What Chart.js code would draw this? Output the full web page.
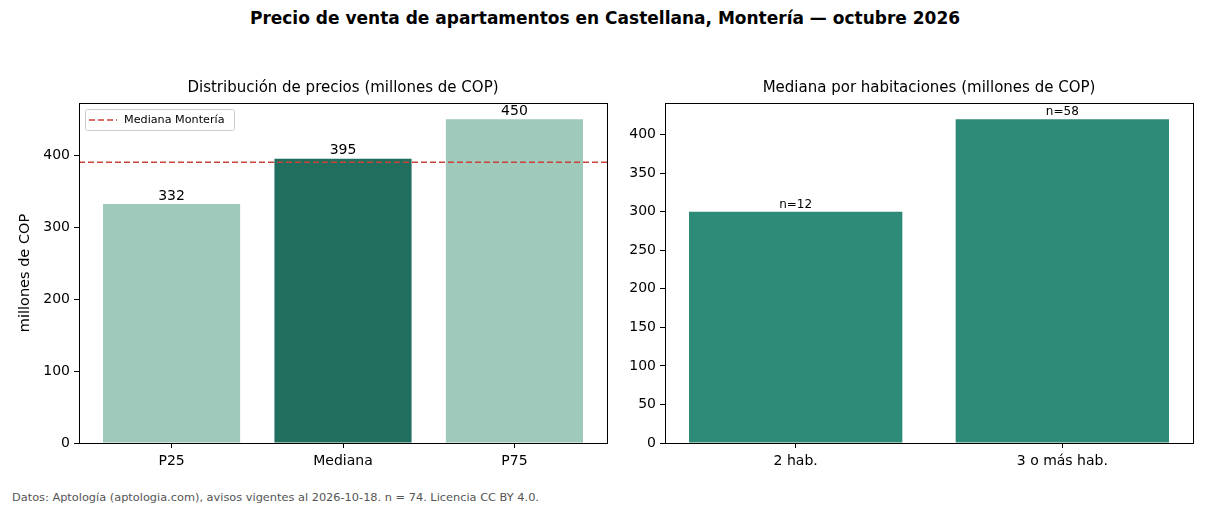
<!DOCTYPE html>
<html>
<head>
<meta charset="utf-8">
<script src="https://cdn.jsdelivr.net/npm/chart.js@4"></script>
<style>
  body { margin: 0; width: 1210px; height: 506px; background: #fff; position: relative; overflow: hidden; font-family: "DejaVu Sans", sans-serif; }
  #titulo { position: absolute; top: 8px; left: 0; width: 1210px; text-align: center; font-weight: bold; font-size: 17px; line-height: 20px; color: #000; }
  #pie { position: absolute; left: 12px; top: 490px; font-size: 11.35px; line-height: 14px; color: #555; }
  .caja { position: absolute; top: 70px; height: 420px; }
</style>
</head>
<body>
<div id="titulo">Precio de venta de apartamentos en Castellana, Montería — octubre 2026</div>
<div class="caja" style="left:0;width:612px"><canvas id="precios"></canvas></div>
<div class="caja" style="left:620px;width:580px"><canvas id="habitaciones"></canvas></div>
<div id="pie">Datos: Aptología (aptologia.com), avisos vigentes al 2026-10-18. n = 74. Licencia CC BY 4.0.</div>

<script>
// datos
const catsPrecio = ['P25', 'Mediana', 'P75'];
const valsPrecio = [332, 395, 450];
const medianaMonteria = 390;
const ticksPrecio = [0, 100, 200, 300, 400];

const catsHab = ['2 hab.', '3 o más hab.'];
const valsHab = [300, 420];
const nHab = [12, 58];
const ticksHab = [0, 50, 100, 150, 200, 250, 300, 350, 400];

const claro = '#9ec9bb';
const oscuro = '#206e5e';
const verde = '#2e8b77';
const rojo = '#c8433a';

Chart.defaults.font.family = '"DejaVu Sans", sans-serif';
Chart.defaults.color = '#000';
Chart.defaults.animation = false;

// marco negro alrededor del area
const marco = {
  id: 'marco',
  afterDraw(chart) {
    const a = chart.chartArea, c = chart.ctx;
    c.save();
    c.strokeStyle = '#000';
    c.lineWidth = 1;
    c.strokeRect(Math.round(a.left) + 0.5, Math.round(a.top) + 0.5,
      Math.round(a.right - a.left), Math.round(a.bottom - a.top));
    c.restore();
  }
};

// subtitulo centrado sobre el area del grafico
function subtitulo(texto) {
  return {
    id: 'subtitulo',
    afterDraw(chart) {
      const a = chart.chartArea, c = chart.ctx;
      c.save();
      c.fillStyle = '#000';
      c.font = '15px "DejaVu Sans"';
      c.textAlign = 'center';
      c.textBaseline = 'middle';
      c.fillText(texto, (a.left + a.right) / 2, a.top - 15);
      c.restore();
    }
  };
}

// texto encima de cada barra
function etiquetas(textos, size) {
  return {
    id: 'etiquetas',
    afterDatasetsDraw(chart) {
      const c = chart.ctx;
      const meta = chart.getDatasetMeta(0);
      c.save();
      c.fillStyle = '#000';
      c.font = size + 'px "DejaVu Sans"';
      c.textAlign = 'center';
      c.textBaseline = 'bottom';
      meta.data.forEach((el, i) => c.fillText(textos[i], el.x, el.y - 1));
      c.restore();
    }
  };
}

// linea de referencia y leyenda
const referencia = {
  id: 'referencia',
  afterDatasetsDraw(chart) {
    const a = chart.chartArea, c = chart.ctx;
    const y = chart.scales.y.getPixelForValue(medianaMonteria);
    c.save();
    c.strokeStyle = rojo;
    c.lineWidth = 1.5;
    c.setLineDash([6, 3]);
    c.beginPath();
    c.moveTo(a.left, y);
    c.lineTo(a.right, y);
    c.stroke();
    // leyenda
    const lx = a.left + 6, ly = a.top + 6;
    c.setLineDash([]);
    c.fillStyle = 'rgba(255,255,255,0.85)';
    c.strokeStyle = '#ccc';
    c.lineWidth = 1;
    c.beginPath();
    c.roundRect(lx + 0.5, ly + 0.5, 149, 21, 2);
    c.fill();
    c.stroke();
    c.strokeStyle = rojo;
    c.lineWidth = 1.5;
    c.setLineDash([6, 3]);
    c.beginPath();
    c.moveTo(lx + 4, ly + 11);
    c.lineTo(lx + 32, ly + 11);
    c.stroke();
    c.fillStyle = '#000';
    c.font = '11.2px "DejaVu Sans"';
    c.textBaseline = 'middle';
    c.fillText('Mediana Montería', lx + 39, ly + 11);
    c.restore();
  }
};

function ejes(cats, min, max, ymax, yticks, anchoY, tituloY) {
  return {
    x: {
      type: 'linear', min: min, max: max, offset: false,
      afterBuildTicks: s => { s.ticks = cats.map((_, i) => ({ value: i })); },
      ticks: { callback: v => cats[v], font: { size: 14 }, padding: 5, maxRotation: 0, autoSkip: false },
      grid: { drawOnChartArea: false, offset: false, tickLength: 5, color: '#000' },
      border: { display: false },
      afterFit: s => { s.height = 47; }
    },
    y: {
      min: 0, max: ymax,
      afterBuildTicks: s => { s.ticks = yticks.map(v => ({ value: v })); },
      ticks: { font: { size: 14 }, padding: 4 },
      grid: { drawOnChartArea: false, tickLength: 5, color: '#000' },
      border: { display: false },
      title: { display: !!tituloY, text: tituloY, font: { size: 14.5 }, padding: { top: 0, bottom: 4 } },
      afterFit: s => { s.width = anchoY; }
    }
  };
}

new Chart(document.getElementById('precios'), {
  type: 'bar',
  data: {
    datasets: [{
      data: valsPrecio.map((v, i) => ({ x: i, y: v })),
      backgroundColor: catsPrecio.map(c => c === 'Mediana' ? oscuro : claro),
      borderWidth: 0,
      barPercentage: 0.8,
      categoryPercentage: 1
    }]
  },
  options: {
    responsive: true,
    maintainAspectRatio: false,
    layout: { padding: { left: 17, right: 5, top: 33, bottom: 0 } },
    plugins: {
      legend: { display: false },
      tooltip: { enabled: false }
    },
    scales: ejes(catsPrecio, -0.54, 2.54, 472.5, ticksPrecio, 62, 'millones de COP')
  },
  plugins: [referencia, etiquetas(valsPrecio.map(String), 14), marco, subtitulo('Distribución de precios (millones de COP)')]
});

new Chart(document.getElementById('habitaciones'), {
  type: 'bar',
  data: {
    datasets: [{
      data: valsHab.map((v, i) => ({ x: i, y: v })),
      backgroundColor: verde,
      borderWidth: 0,
      barPercentage: 0.8,
      categoryPercentage: 1
    }]
  },
  options: {
    responsive: true,
    maintainAspectRatio: false,
    layout: { padding: { left: 0, right: 7, top: 33, bottom: 0 } },
    plugins: {
      legend: { display: false },
      tooltip: { enabled: false }
    },
    scales: ejes(catsHab, -0.49, 1.49, 441, ticksHab, 45, '')
  },
  plugins: [etiquetas(nHab.map(n => 'n=' + n), 12), marco, subtitulo('Mediana por habitaciones (millones de COP)')]
});
</script>
</body>
</html>
